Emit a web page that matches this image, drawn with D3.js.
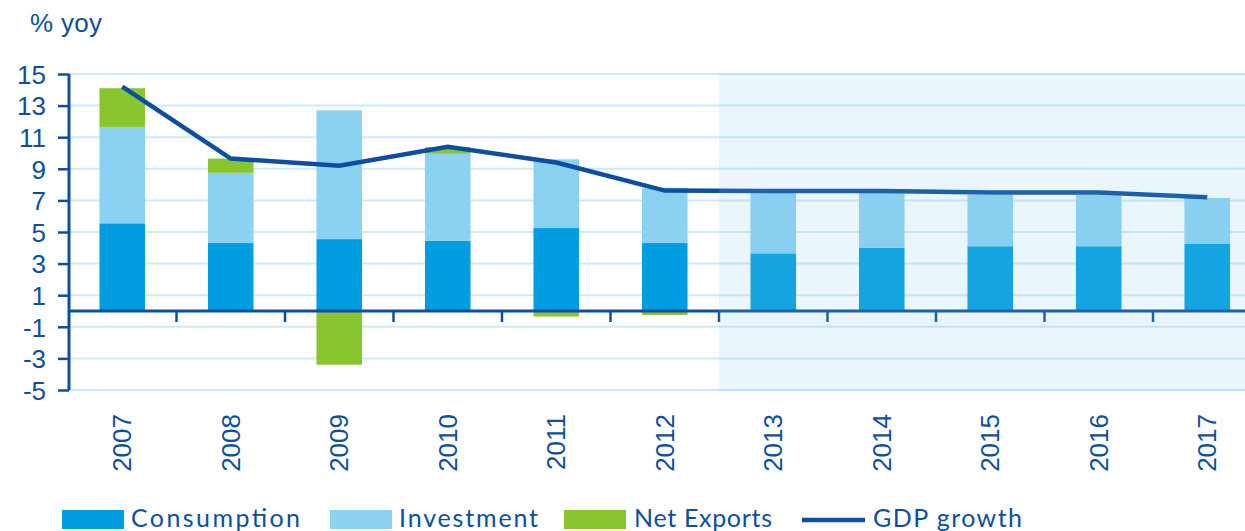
<!DOCTYPE html>
<html>
<head>
<meta charset="utf-8">
<script src="https://cdnjs.cloudflare.com/ajax/libs/d3/7.8.5/d3.min.js"></script>
<style>
body { margin: 0; background: #fff; }
</style>
</head>
<body>
<div class="container"></div>
<script>
// chart values
var years = ["2007","2008","2009","2010","2011","2012","2013","2014","2015","2016","2017"];
var consumption = [5.55, 4.3, 4.55, 4.45, 5.25, 4.3, 3.65, 4.0, 4.1, 4.1, 4.25];
var investment  = [6.1, 4.45, 8.15, 5.5, 4.35, 3.5, 3.9, 3.6, 3.25, 3.25, 2.9];
var netExports  = [2.45, 0.9, -3.4, 0.42, -0.35, -0.25, 0, 0, 0, 0, 0];
var gdpGrowth   = [14.2, 9.65, 9.2, 10.4, 9.4, 7.62, 7.6, 7.6, 7.5, 7.5, 7.2];
var yTicks = [15, 13, 11, 9, 7, 5, 3, 1, -1, -3, -5];
var forecastFrom = "2013";

var W = 1245, H = 531;
var dark = "#0d4f9f";
var font = "'Liberation Sans', Arial, sans-serif";

var svg = d3.select(".container")
	.append("svg")
	.attr("width", W)
	.attr("height", H);

var x = d3.scaleBand().domain(years).range([68, 1261.5]).padding(0);
var y = d3.scaleLinear().domain([-5, 15]).range([390, 74]);
var barW = x.bandwidth() * 0.42;

// grid lines
svg.append("g")
	.selectAll("line")
	.data(yTicks)
	.join("line")
	.attr("x1", 69).attr("x2", W)
	.attr("y1", function(d) { return y(d); })
	.attr("y2", function(d) { return y(d); })
	.style("stroke", "#cdeaf7")
	.style("stroke-width", "2px");

// stacked bars, positive parts go up, negative parts go down from zero
var rows = years.map(function(yr, i) {
	var parts = [];
	var up = 0, down = 0;
	[["c", consumption[i], "#009ee0"], ["i", investment[i], "#8bd1f2"], ["n", netExports[i], "#89c52e"]].forEach(function(p) {
		var v = p[1];
		if (v >= 0) { parts.push({yr: yr, y0: up, y1: up + v, color: p[2]}); up += v; }
		else { parts.push({yr: yr, y0: down + v, y1: down, color: p[2]}); down += v; }
	});
	return parts;
});

svg.append("g")
	.selectAll("rect")
	.data(rows.flat().filter(function(d) { return d.y1 - d.y0 > 0; }))
	.join("rect")
	.attr("x", function(d) { return x(d.yr) + (x.bandwidth() - barW) / 2; })
	.attr("width", barW)
	.attr("y", function(d) { return y(d.y1); })
	.attr("height", function(d) { return y(d.y0) - y(d.y1); })
	.style("fill", function(d) { return d.color; });

// zero axis with ticks between categories
svg.append("g")
	.attr("transform", "translate(0," + y(0) + ")")
	.call(d3.axisBottom(x).tickSize(0).tickFormat(""))
	.call(function(g) {
		g.select(".domain").attr("d", "M69,0H" + W).style("stroke", dark).style("stroke-width", "3px");
		g.selectAll(".tick").remove();
	});

svg.append("g")
	.selectAll("line")
	.data(years.slice(1))
	.join("line")
	.attr("x1", function(d) { return x(d); })
	.attr("x2", function(d) { return x(d); })
	.attr("y1", y(0)).attr("y2", y(0) + 11)
	.style("stroke", dark)
	.style("stroke-width", "2.5px");

// y axis (plain hyphen for negatives, like the original)
svg.append("g")
	.attr("transform", "translate(69,0)")
	.call(d3.axisLeft(y).tickValues(yTicks).tickSize(11).tickPadding(12).tickFormat(function(d) { return String(d); }))
	.call(function(g) {
		g.select(".domain").attr("d", "M0," + y(15) + "V" + y(-5)).style("stroke", dark).style("stroke-width", "3px");
		g.selectAll(".tick line").style("stroke", dark).style("stroke-width", "2.5px");
		g.selectAll(".tick text")
			.style("font-family", font)
			.style("font-size", "26px")
			.style("fill", dark)
			.attr("dy", "0.36em");
	});

// GDP line
var line = d3.line()
	.x(function(d, i) { return x(years[i]) + x.bandwidth() / 2; })
	.y(function(d) { return y(d); });

svg.append("path")
	.datum(gdpGrowth)
	.attr("d", line)
	.style("fill", "none")
	.style("stroke", "#0b4ea2")
	.style("stroke-width", "4.5px");

// forecast shading laid over everything
svg.append("rect")
	.attr("x", x(forecastFrom))
	.attr("y", y(15) - 1)
	.attr("width", W - x(forecastFrom))
	.attr("height", y(-5) - y(15) + 2)
	.style("fill", "#7cc7e6")
	.style("opacity", 0.16);

// year labels, rotated
svg.append("g")
	.selectAll("text")
	.data(years)
	.join("text")
	.attr("transform", function(d) { return "translate(" + (x(d) + x.bandwidth() / 2 + 9) + ",414) rotate(-90)"; })
	.attr("text-anchor", "end")
	.style("font-family", font)
	.style("font-size", "26px")
	.style("fill", dark)
	.text(function(d) { return d; });

// unit label
svg.append("text")
	.attr("x", 30).attr("y", 32)
	.attr("textLength", 72)
	.attr("lengthAdjust", "spacing")
	.style("font-family", font)
	.style("font-size", "26px")
	.style("fill", dark)
	.text("% yoy");

// legend
var legendItems = [
	{label: "Consumption", color: "#009ee0", x: 62, tx: 131, tw: 169, kind: "box"},
	{label: "Investment", color: "#8bd1f2", x: 330, tx: 399, tw: 139, kind: "box"},
	{label: "Net Exports", color: "#89c52e", x: 564, tx: 634, tw: 138, kind: "box"},
	{label: "GDP growth", color: "#0b4ea2", x: 802, tx: 873, tw: 149, kind: "line"}
];

var lg = svg.append("g");
legendItems.forEach(function(d) {
	if (d.kind == "box") {
		lg.append("rect").attr("x", d.x).attr("y", 510).attr("width", 62).attr("height", 19).style("fill", d.color);
	} else {
		lg.append("line").attr("x1", d.x).attr("x2", d.x + 63).attr("y1", 520).attr("y2", 520)
			.style("stroke", d.color).style("stroke-width", "4.5px");
	}
	lg.append("text")
		.attr("x", d.tx).attr("y", 527)
		.attr("textLength", d.tw)
		.attr("lengthAdjust", "spacing")
		.style("font-family", "Lato, 'Open Sans', sans-serif")
		.style("font-size", "25px")
		.style("fill", dark)
		.text(d.label);
});
</script>
</body>
</html>
